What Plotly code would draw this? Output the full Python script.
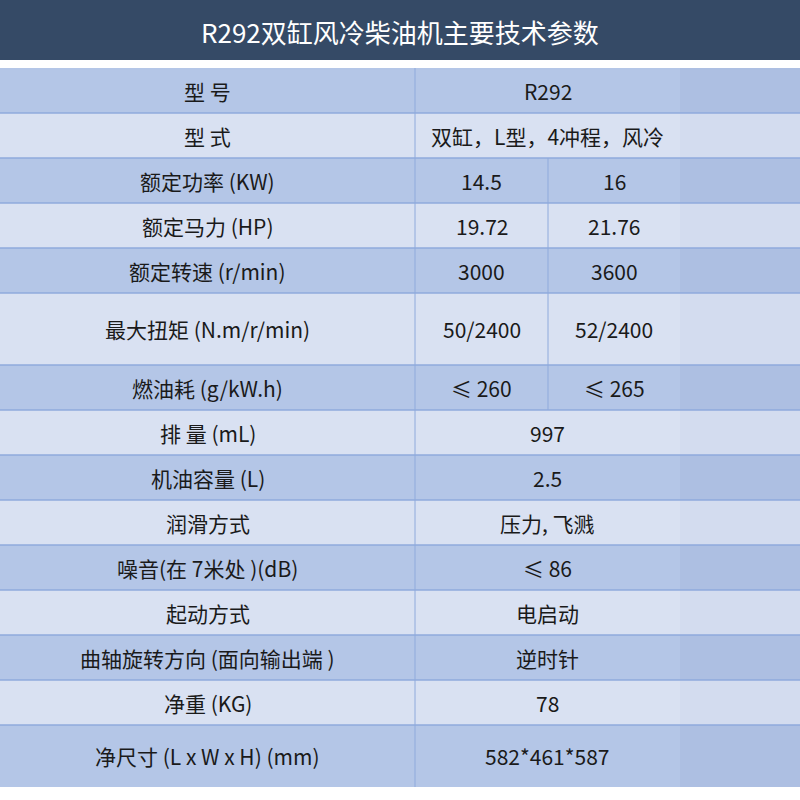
import plotly.graph_objects as go

title = "R292双缸风冷柴油机主要技术参数"
labels = ["型 号", "型 式", "额定功率 (KW)", "额定马力 (HP)", "额定转速 (r/min)",
          "最大扭矩 (N.m/r/min)", "燃油耗 (g/kW.h)", "排 量 (mL)", "机油容量 (L)",
          "润滑方式", "噪音(在 7米处 )(dB)", "起动方式", "曲轴旋转方向 (面向输出端 )",
          "净重 (KG)", "净尺寸 (L x W x H) (mm)"]
values_a = ["R292", "双缸，L型，4冲程，风冷", "14.5", "19.72", "3000", "50/2400",
            "≤ 260", "997", "2.5", "压力, 飞溅", "≤ 86", "电启动", "逆时针", "78", "582*461*587"]
values_b = [None, None, "16", "21.76", "3600", "52/2400", "≤ 265",
            None, None, None, None, None, None, None, None]
row_edges = [68, 113, 158, 203, 248, 293, 365, 410, 455, 500, 545, 590, 635, 680, 725, 787]
col_edges = [0, 415, 548, 680, 800]

BLUE, LIGHT = "#b4c6e7", "#d9e1f2"
BLUE4, LIGHT4 = "#adbfe2", "#d3dcef"
LINE = "#8faadc"
FONT = "Noto Sans CJK SC"
FS = 21

shapes, ann = [], []
shapes.append(dict(type="rect", x0=0, x1=800, y0=0, y1=60, fillcolor="#354a66", line_width=0, layer="below"))
ann.append(dict(x=400, y=31, text=title, showarrow=False, font=dict(color="white", size=26, family=FONT)))

for i, lab in enumerate(labels):
    y0, y1 = row_edges[i], row_edges[i + 1]
    yc = (y0 + y1) / 2
    blue = i % 2 == 0
    shapes.append(dict(type="rect", x0=col_edges[0], x1=col_edges[3], y0=y0, y1=y1,
                       fillcolor=BLUE if blue else LIGHT, line_width=0, layer="below"))
    shapes.append(dict(type="rect", x0=col_edges[3], x1=col_edges[4], y0=y0, y1=y1,
                       fillcolor=BLUE4 if blue else LIGHT4, line_width=0, layer="below"))
    ann.append(dict(x=(col_edges[0] + col_edges[1]) / 2, y=yc, text=lab, showarrow=False,
                    font=dict(size=FS, color="#1a1a1a", family=FONT)))
    if values_b[i] is None:
        ann.append(dict(x=(col_edges[1] + col_edges[3]) / 2, y=yc, text=values_a[i], showarrow=False,
                        font=dict(size=FS, color="#1a1a1a", family=FONT)))
    else:
        ann.append(dict(x=(col_edges[1] + col_edges[2]) / 2, y=yc, text=values_a[i], showarrow=False,
                        font=dict(size=FS, color="#1a1a1a", family=FONT)))
        ann.append(dict(x=(col_edges[2] + col_edges[3]) / 2, y=yc, text=values_b[i], showarrow=False,
                        font=dict(size=FS, color="#1a1a1a", family=FONT)))
        shapes.append(dict(type="line", x0=col_edges[2], x1=col_edges[2], y0=y0, y1=y1,
                           line=dict(color=LINE, width=1)))
    if i > 0:
        shapes.append(dict(type="line", x0=0, x1=800, y0=y0, y1=y0, line=dict(color=LINE, width=1.5)))

shapes.append(dict(type="line", x0=col_edges[1], x1=col_edges[1], y0=row_edges[0], y1=row_edges[-1],
                   line=dict(color=LINE, width=1)))

fig = go.Figure()
fig.update_layout(width=800, height=800, margin=dict(l=0, r=0, t=0, b=0),
                  paper_bgcolor="white", plot_bgcolor="white",
                  xaxis=dict(range=[0, 800], visible=False, fixedrange=True),
                  yaxis=dict(range=[800, 0], visible=False, fixedrange=True),
                  shapes=shapes, annotations=ann, showlegend=False)
fig.write_html("out.html", config={"displayModeBar": False})

with open("out.html", encoding="utf-8") as f:
    html = f.read()
html = html.replace("<body>", '<body style="margin:0;overflow:hidden">', 1)
with open("out.html", "w", encoding="utf-8") as f:
    f.write(html)
